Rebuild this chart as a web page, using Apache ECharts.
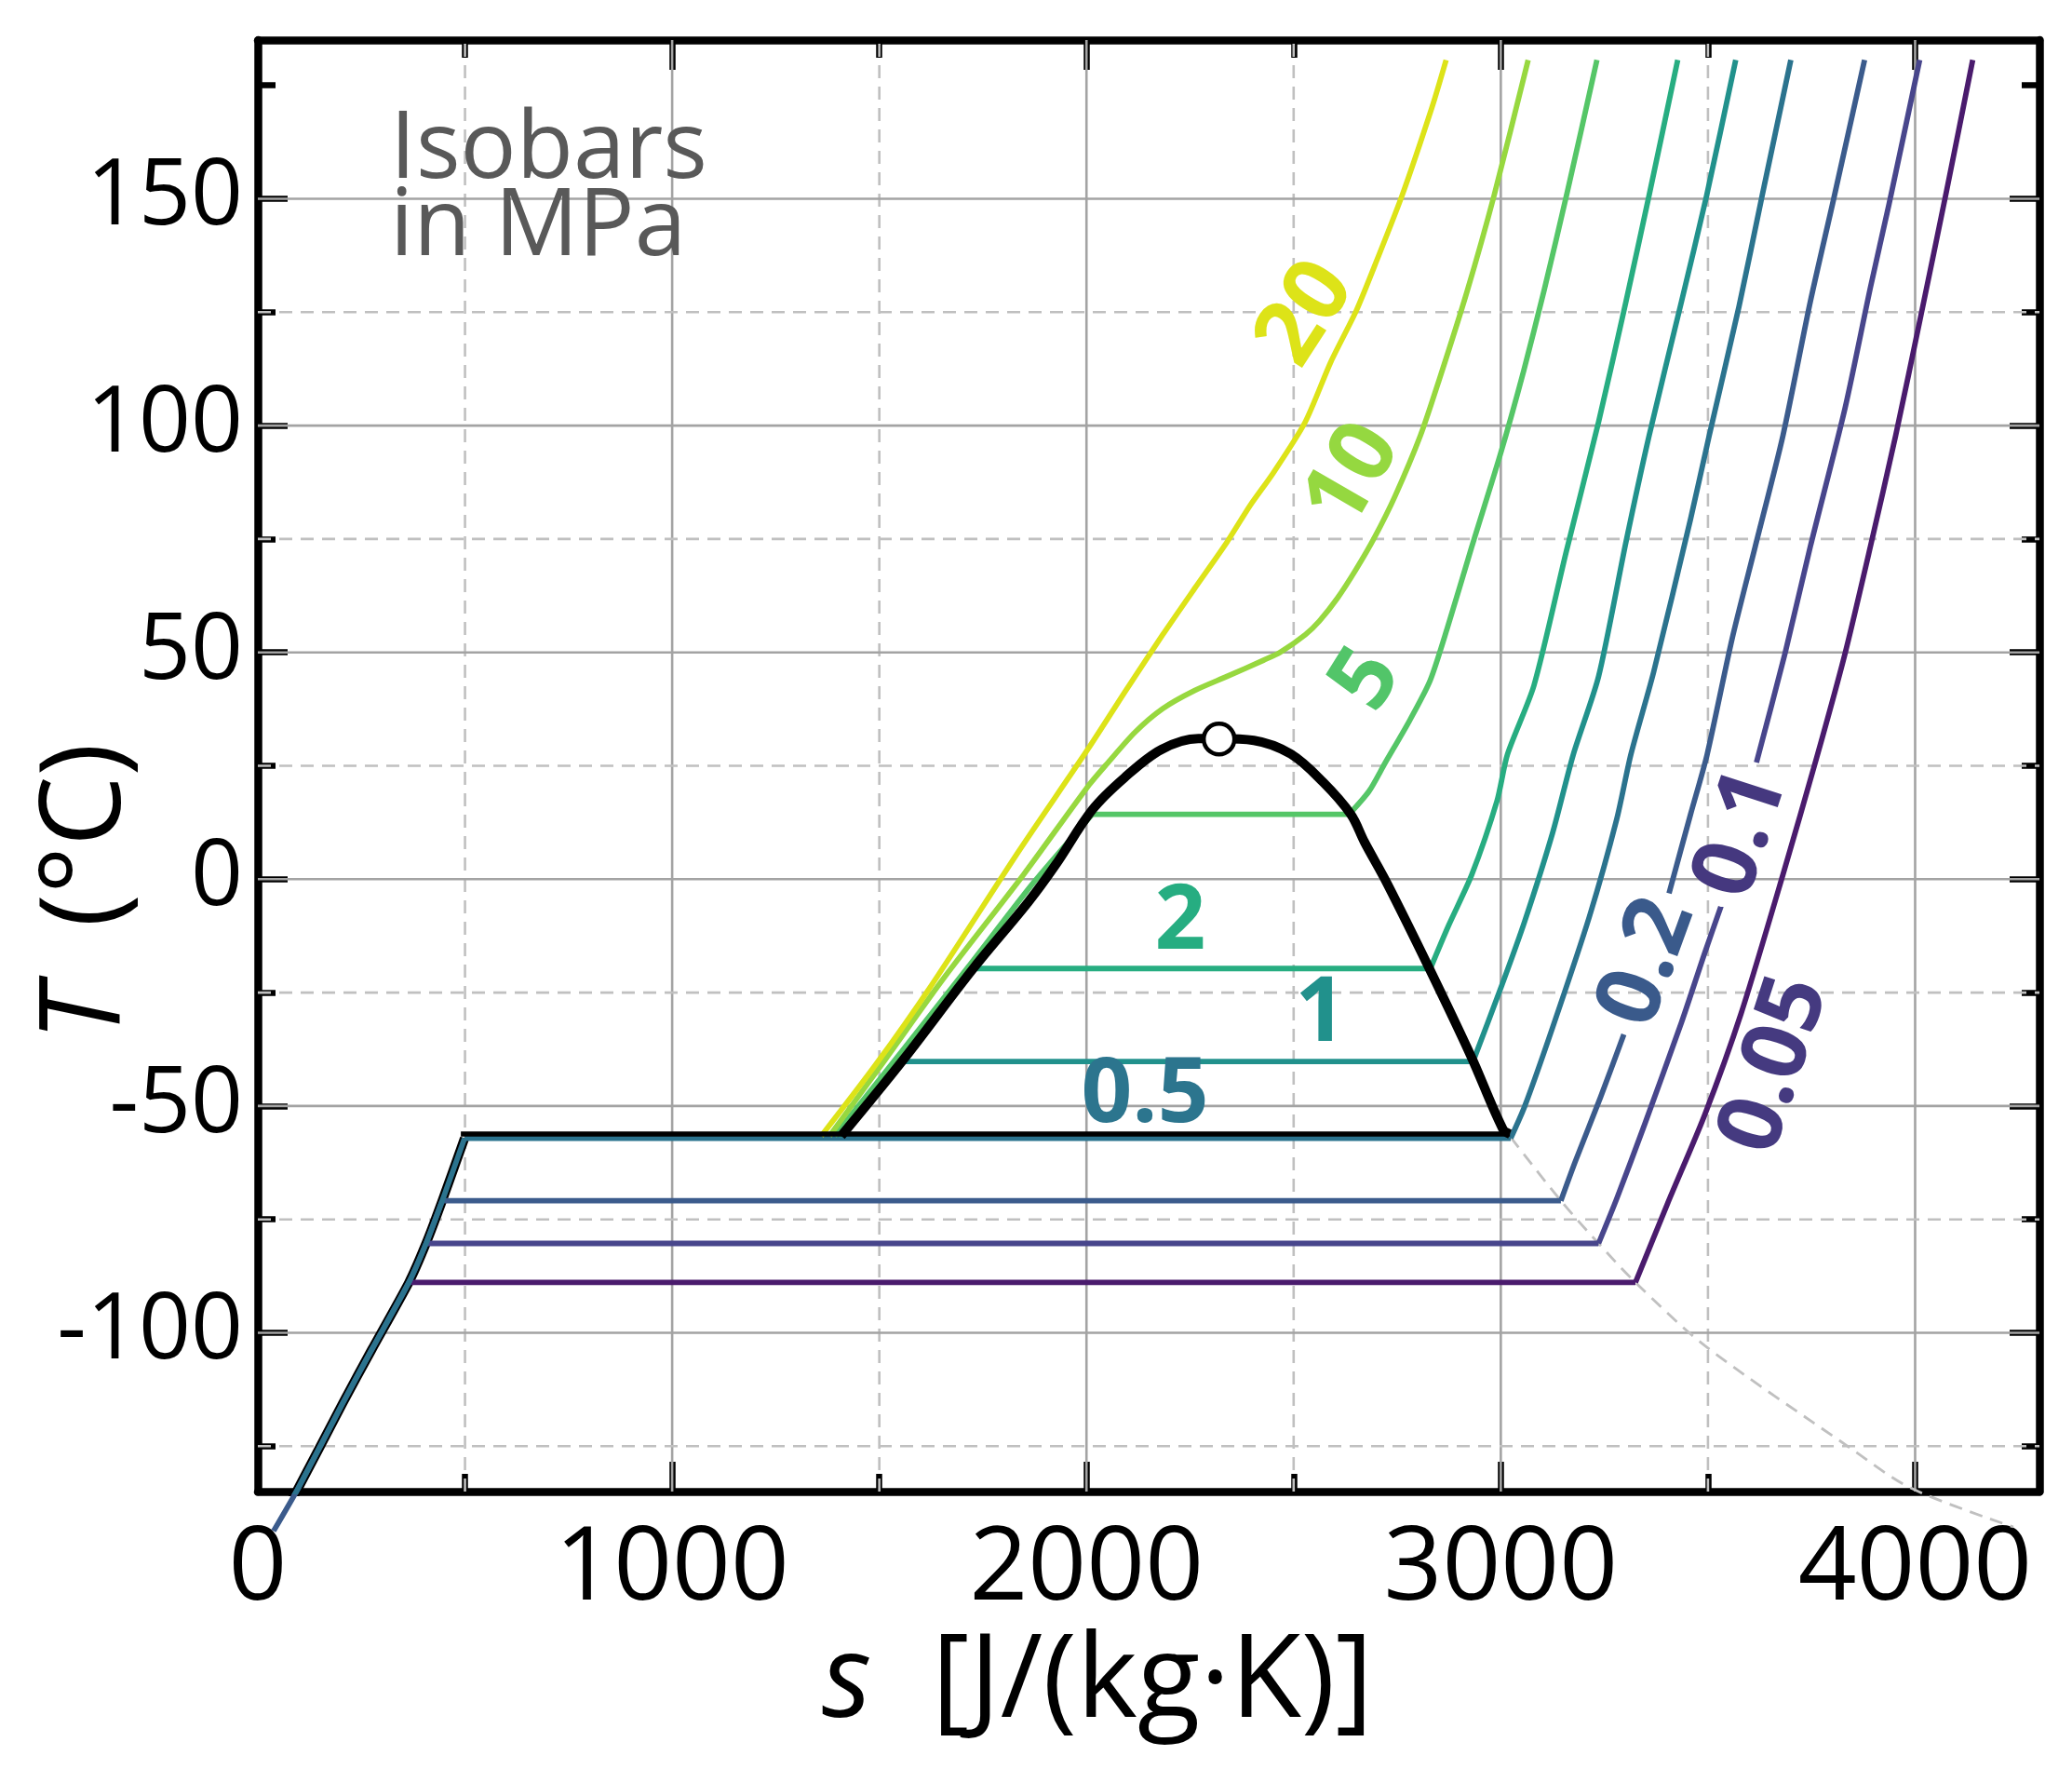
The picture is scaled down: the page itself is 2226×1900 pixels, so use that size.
<!DOCTYPE html>
<html>
<head>
<meta charset="utf-8">
<script src="https://cdn.jsdelivr.net/npm/echarts@6/dist/echarts.min.js"></script>
<style>
html,body{margin:0;padding:0;background:#ffffff;}
#chart{width:2226px;height:1900px;}
</style>
</head>
<body>
<div id="chart"></div>
<script>
// ---------------- data ----------------
const sRange = [0, 4300];          // s  [J/(kg·K)]
const TRange = [-135, 185];        // T  (°C)
const xMajorTicks = [0, 1000, 2000, 3000, 4000];
const xMinorTicks = [500, 1500, 2500, 3500];
const yMajorTicks = [-100, -50, 0, 50, 100, 150];
const yMinorTicks = [-125, -75, -25, 25, 75, 125, 175];
const xMinorGrid = [500, 1500, 2500, 3500];
const yMinorGrid = [-125, -75, -25, 25, 75, 125];

const pressures = ['0.05', '0.1', '0.2', '0.5', '1', '2', '5', '10', '20']; // MPa

// solid-phase branch (shared by the low-pressure isobars)
const solidBranch = [[38,-143.7],[96,-134.5],[205,-115.5],[275,-103.7],[364.5,-88.9],[406,-80.3],[445,-70.9],[499,-57.1]];

const iso_0_05 = [[364.5,-88.9],[3325,-88.9],[3403,-71.4],[3492,-52.0],[3580,-29.6],[3681,1.0],[3763,27.0],[3831,49.8],[3892,73.3],[3953,97.8],[4014,124.3],[4076,151.8],[4139,180.6]];
const iso_0_1 = [[406,-80.3],[3236,-80.3],[3280,-70.4],[3347,-54.1],[3436,-31.6],[3492,-16.3],[3531,-6.1],['-','-'],[3617,25.7],[3686,49.8],[3747,73.3],[3831,103.9],[3892,130.4],[3937,148.8],[4011,180.6]];
const iso_0_2 = [[38,-143.7],[96,-134.5],[205,-115.5],[275,-103.7],[364.5,-88.9],[406,-80.3],[445,-70.9],[3145,-70.9],[3180,-62.2],[3241,-48.0],[3297,-34.2],['-','-'],[3406,-3.1],[3458,14.3],[3498,27.5],[3558,52.9],[3614,73.3],[3681,97.8],[3747,127.3],[3803,149.8],[3878,180.6]];
const iso_0_5 = [[38,-143.7],[96,-134.5],[205,-115.5],[275,-103.7],[364.5,-88.9],[406,-80.3],[445,-70.9],[499,-57.1],[3024,-57.1],[3058,-50.0],[3125,-32.7],[3214,-8.2],[3280,13.3],[3314,27.5],[3369,45.7],[3458,79.4],[3503,97.8],[3575,126.3],[3631,150.8],[3700,180.6]];
const iso_1 = [[1405,-56.6],[1558,-40.2],[2933,-40.2],[3002,-23.5],[3058,-9.2],[3125,10.2],[3175,27.5],[3236,44.7],[3302,74.3],[3358,97.8],[3436,127.3],[3497,150.8],[3567,180.6]];
const iso_2 = [[1400,-56.6],[1555,-39.5],[1725,-19.7],[2830,-19.7],[2874,-10.2],[2930,1.0],[2991,17.3],[3016,27.5],[3080,42.7],[3158,72.2],[3236,100.8],[3302,127.3],[3358,150.8],[3427,180.6]];
const iso_5 = [[1392,-56.6],[1547,-38.8],[1714,-19.4],[1870,-1.0],[2014,14.3],[2634,14.3],[2682,19.4],[2720,25.5],[2780,35.0],[2829,43.7],[2871,55.4],[2930,73.3],[2999,93.7],[3055,112.0],[3105,130.0],[3160,151.3],[3232,180.6]];
const iso_10 = [[1380,-56.6],[1514,-39.8],[1659,-21.4],[1848,1.0],[2003,20.4],[2050,25.5],[2117,32.4],[2184,37.6],[2261,41.6],[2339,44.7],[2428,48.3],[2467,50.0],[2528,53.9],[2562,56.9],[2606,62.0],[2650,68.2],[2695,75.3],[2745,84.5],[2806,97.8],[2851,110.0],[2918,129.4],[2984,150.8],[3066,180.6]];
const iso_20 = [[1360,-56.6],[1492,-40.8],[1625,-23.5],[1836,6.1],[2003,28.6],[2095,41.6],[2184,53.9],[2261,64.1],[2339,74.3],[2395,82.4],[2451,89.6],[2528,100.8],[2590,114.1],[2651,125.3],[2701,136.5],[2762,150.8],[2834,170.2],[2868,180.6]];

const satDome = [[1408,-56.6],[1558,-39.8],[1725,-19.9],[1859,-5.1],[1925,3.1],[2014,15.3],[2092,22.4],[2181,28.6],[2270,31.0],[2320,31.0],[2404,30.6],[2493,27.6],[2571,21.4],[2638,14.3],[2671,8.2],[2726,-1.0],[2826,-19.4],[2927,-38.8],[3005,-55.1],[3022,-56.2]];
const tripleLine = [[490,-56.2],[3022,-56.2]];
const sublimationExt = [[3024,-56.9],[3145,-70.9],[3236,-80.3],[3325,-88.9],[3492,-102.8],[3834,-124.8],[3989,-134.2],[4237,-142.8]];
const criticalPoint = [[2320,30.9]];

// isobar label anchors (data units) and texts
const labelTexts = ['0.05', '0.1', '0.2', '0.5', '1', '2', '5', '10', '20'];
const labelAt = [[3664,-41.0],[3583,10.0],[3355,-18.4],[2141,-48.0],[2565,-30.1],[2226,-9.7],[2678,43.9],[2645,88.9],[2531,124.6]];

// ---------------- styles ----------------
const FONT = '"Open Sans", "Noto Sans", sans-serif';
const lineColors = ['#4a1b6d','#48468c','#3b5b8c','#2b738e','#21918c','#27ad81','#55c667','#97d83f','#dde318'];
const labelColors = ['#453a80','#45387f','#3a5a8b','#2c758e','#21918c','#26ad81','#52c569','#95d840','#dde318'];
const labelAngles = [72, 72, 70, 0, 0, 0, 58, 60, 57];
const isoData = [iso_0_05, iso_0_1, iso_0_2, iso_0_5, iso_1, iso_2, iso_5, iso_10, iso_20];

function gridSeries(values, dim, style) {
  return {
    type: 'custom', z: 1, silent: true, animation: false,
    data: values.map(v => dim === 'x' ? [v, TRange[0]] : [sRange[0], v]),
    renderItem: function (params, api) {
      const v = api.value(dim === 'x' ? 0 : 1);
      const p1 = dim === 'x' ? api.coord([v, TRange[0]]) : api.coord([sRange[0], v]);
      const p2 = dim === 'x' ? api.coord([v, TRange[1]]) : api.coord([sRange[1], v]);
      return { type: 'line', shape: { x1: p1[0], y1: p1[1], x2: p2[0], y2: p2[1] }, style: style };
    }
  };
}
const solidGrid = { stroke: '#a3a3a3', lineWidth: 2.6 };
const dashGrid = { stroke: '#c0c0c0', lineWidth: 2.6, lineDash: [14, 9] };

function lineSeries(data, color, width, z, extra) {
  return Object.assign({
    type: 'line', data: data, showSymbol: false, symbol: 'none', z: z,
    silent: true, animation: false, connectNulls: false, smooth: false,
    lineStyle: { color: color, width: width, join: 'round' }
  }, extra || {});
}

// split an isobar at its two-phase plateau so the curved parts can be smoothed
function splitPlateau(d) {
  for (let i = 0; i < d.length - 1; i++) {
    const a = d[i], b = d[i + 1];
    if (typeof a[0] === 'number' && typeof b[0] === 'number' && a[1] === b[1] && b[0] - a[0] > 200) {
      return [d.slice(0, i + 1), d.slice(i, i + 2), d.slice(i + 1)];
    }
  }
  return [[], [], d];
}

const series = [];
series.push(gridSeries(xMajorTicks.filter(v => v > 0), 'x', solidGrid));
series.push(gridSeries(xMinorGrid, 'x', dashGrid));
series.push(gridSeries(yMajorTicks, 'y', solidGrid));
series.push(gridSeries(yMinorGrid, 'y', dashGrid));
series.push(lineSeries(sublimationExt, '#c0c0c0', 2.8, 2, { clip: false, smooth: 0.3, lineStyle: { color: '#c0c0c0', width: 2.8, type: [14, 9] } }));
series.push(lineSeries(solidBranch, '#000000', 10, 3, { smooth: 0.2 }));
isoData.forEach((d, i) => {
  const extra = pressures[i] === '0.2' ? { clip: false } : {};
  const parts = splitPlateau(d);
  parts.forEach((part, k) => {
    if (part.length < 2) return;
    const sm = k === 1 ? false : (k === 0 ? 0.2 : 0.25);
    series.push(lineSeries(part, lineColors[i], 5.8, 4, Object.assign({ smooth: sm }, extra)));
  });
});
series.push(lineSeries(tripleLine, '#000000', 5.5, 5));
series.push(lineSeries(satDome, '#000000', 10, 5, { smooth: 0.35 }));
series.push({
  type: 'scatter', data: criticalPoint, symbol: 'circle', symbolSize: 33, z: 6, silent: true, animation: false,
  itemStyle: { color: '#ffffff', borderColor: '#000000', borderWidth: 4.5, opacity: 1 }
});
series.push({
  type: 'custom', z: 7, silent: true, animation: false,
  data: labelAt.map((p, i) => [p[0], p[1], i]),
  renderItem: function (params, api) {
    const i = api.value(2);
    const pt = api.coord([api.value(0), api.value(1)]);
    return {
      type: 'text', x: pt[0], y: pt[1], rotation: labelAngles[i] * Math.PI / 180,
      style: { text: labelTexts[i], fill: labelColors[i], font: 'bold 96px ' + FONT, align: 'center', verticalAlign: 'middle' }
    };
  }
});

const plainNum = v => String(v);

function xAxisDef(pos, major) {
  const show = pos === 'bottom' && major;
  const a = {
    type: 'value', position: pos, min: sRange[0], max: sRange[1],
    splitLine: { show: false }, minorTick: { show: false },
    axisLine: { show: major, onZero: false, lineStyle: { color: '#000', width: 8.5 } },
    axisTick: { show: true, inside: true, length: major ? 32 : 19, lineStyle: { color: '#000', width: 6.5 }, customValues: major ? xMajorTicks : xMinorTicks },
    axisLabel: { show: show, customValues: xMajorTicks, formatter: plainNum, fontSize: 110, fontFamily: FONT, color: '#000', margin: 30 }
  };
  if (show) {
    a.name = '{it|s}  [J/(kg·K)]';
    a.nameLocation = 'middle';
    a.nameGap = 144;
    a.nameTextStyle = { fontSize: 124, fontFamily: FONT, color: '#000', padding: [0, 110, 0, 0],
      rich: { it: { fontStyle: 'italic', fontSize: 124, fontFamily: FONT, color: '#000' } } };
  }
  return a;
}
function yAxisDef(pos, major) {
  const show = pos === 'left' && major;
  return {
    type: 'value', position: pos, min: TRange[0], max: TRange[1],
    splitLine: { show: false }, minorTick: { show: false },
    axisLine: { show: major, onZero: false, lineStyle: { color: '#000', width: 8.5 } },
    axisTick: { show: true, inside: true, length: major ? 32 : 19, lineStyle: { color: '#000', width: 6.5 }, customValues: major ? yMajorTicks : yMinorTicks },
    axisLabel: { show: show, customValues: yMajorTicks, formatter: plainNum, fontSize: 98, fontFamily: FONT, color: '#000', margin: 16 }
  };
}

const option = {
  backgroundColor: '#ffffff',
  animation: false,
  grid: { left: 277, right: 35, top: 43, bottom: 298, containLabel: false, outerBoundsMode: 'none' },
  xAxis: [xAxisDef('bottom', true), xAxisDef('bottom', false), xAxisDef('top', true), xAxisDef('top', false)],
  yAxis: [yAxisDef('left', true), yAxisDef('left', false), yAxisDef('right', true), yAxisDef('right', false)],
  graphic: [{
    type: 'text', left: 419, top: 113, z: 10, silent: true,
    style: { text: 'Isobars\nin MPa', font: '100px ' + FONT, fill: '#595959', lineHeight: 83 }
  }, {
    type: 'text', x: 95, y: 958, rotation: Math.PI / 2, z: 10, silent: true,
    style: { text: '{it|T}  (°C)', font: '120px ' + FONT, fill: '#000', align: 'center', verticalAlign: 'middle',
      rich: { it: { fontStyle: 'italic', fontSize: 120, fontFamily: FONT, fill: '#000' } } }
  }],
  series: series
};

const chart = echarts.init(document.getElementById('chart'), null, { renderer: 'canvas', width: 2226, height: 1900 });
chart.setOption(option);
</script>
</body>
</html>
